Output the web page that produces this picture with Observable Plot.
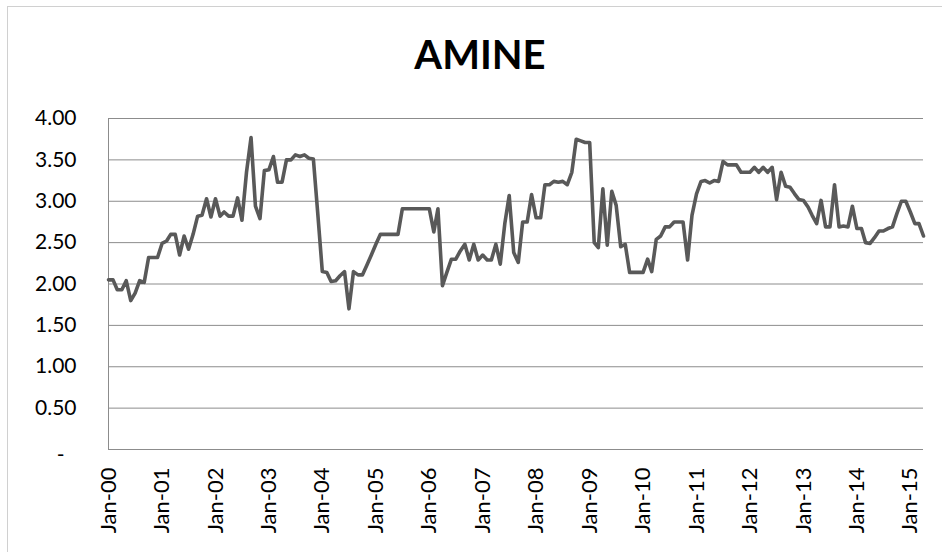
<!DOCTYPE html>
<html><head><meta charset="utf-8">
<script src="https://cdn.jsdelivr.net/npm/d3@7"></script>
<script src="https://cdn.jsdelivr.net/npm/@observablehq/plot@0.6"></script>
<style>
body{margin:0;background:#fff;}
#wrap{position:relative;width:942px;height:552px;overflow:hidden;font-family:Lato,"Open Sans",sans-serif;}
#frame{position:absolute;left:7px;top:6px;width:1000px;height:700px;border-left:1px solid #d0d0d0;border-top:1px solid #d0d0d0;}
#title{position:absolute;left:9px;width:942px;top:33.8px;line-height:40px;text-align:center;font-weight:700;font-size:40px;color:#000;}
#chart{position:absolute;left:0;top:0;}
</style></head>
<body>
<div id="wrap"><div id="frame"></div><div id="title">AMINE</div><div id="chart"></div></div>
<script>
const title = "AMINE";
const v2000 = [2.05,2.05,1.93,1.93,2.04,1.80,1.89,2.04,2.02,2.32,2.32,2.32];
const v2001 = [2.49,2.52,2.60,2.60,2.35,2.58,2.42,2.60,2.82,2.83,3.03,2.81];
const v2002 = [3.03,2.82,2.87,2.82,2.82,3.04,2.77,3.35,3.77,2.94,2.79,3.37];
const v2003 = [3.38,3.54,3.23,3.23,3.50,3.50,3.56,3.54,3.56,3.52,3.51,2.85];
const v2004 = [2.15,2.14,2.03,2.04,2.10,2.15,1.70,2.15,2.11,2.11,2.23,2.35];
const v2005 = [2.48,2.60,2.60,2.60,2.60,2.60,2.91,2.91,2.91,2.91,2.91,2.91];
const v2006 = [2.91,2.63,2.91,1.98,2.14,2.30,2.30,2.40,2.48,2.29,2.48,2.29];
const v2007 = [2.35,2.29,2.29,2.48,2.24,2.73,3.07,2.38,2.26,2.75,2.75,3.08];
const v2008 = [2.80,2.80,3.20,3.20,3.24,3.23,3.24,3.20,3.35,3.75,3.73,3.71];
const v2009 = [3.71,2.50,2.44,3.15,2.47,3.12,2.95,2.45,2.48,2.14,2.14,2.14];
const v2010 = [2.14,2.30,2.15,2.54,2.58,2.69,2.69,2.75,2.75,2.75,2.29,2.83];
const v2011 = [3.09,3.24,3.25,3.22,3.25,3.24,3.48,3.44,3.44,3.44,3.35,3.35];
const v2012 = [3.35,3.41,3.35,3.41,3.35,3.41,3.02,3.35,3.18,3.17,3.09,3.02];
const v2013 = [3.01,2.93,2.83,2.73,3.01,2.69,2.69,3.20,2.69,2.70,2.69,2.94];
const v2014 = [2.67,2.67,2.50,2.49,2.56,2.64,2.64,2.67,2.69,2.85,3.00,3.00];
const v2015 = [2.87,2.73,2.73,2.58];
const yTicks = [0,0.5,1,1.5,2,2.5,3,3.5,4];
const xTickYears = [2000,2001,2002,2003,2004,2005,2006,2007,2008,2009,2010,2011,2012,2013,2014,2015];

const values = [...v2000,...v2001,...v2002,...v2003,...v2004,...v2005,...v2006,...v2007,
  ...v2008,...v2009,...v2010,...v2011,...v2012,...v2013,...v2014,...v2015];
const months = values.map((v,i) => new Date(Date.UTC(2000, i, 1)));
const data = values.map((v,i) => ({date: months[i], value: v}));
const xTicks = xTickYears.map(y => new Date(Date.UTC(y,0,1)));
const fmtX = d3.utcFormat("%b-%y");

const chart = Plot.plot({
  width: 942, height: 552,
  marginTop: 118, marginBottom: 103, marginLeft: 108, marginRight: 19,
  x: {type: "utc", domain: [months[0], months[months.length-1]], label: null},
  y: {domain: [0, 4], label: null},
  style: {fontFamily: "Lato, 'Open Sans', sans-serif", color: "#000", background: "transparent"},
  marks: [
    Plot.gridY(yTicks, {stroke: "#8c8c8c", strokeOpacity: 1, strokeWidth: 1}),
    Plot.ruleX([months[0]], {stroke: "#8c8c8c", strokeWidth: 1}),
    Plot.lineY(data, {x: "date", y: "value", stroke: "#595959", strokeWidth: 3.6, strokeLinejoin: "round"}),
    Plot.axisY(yTicks.slice(1), {tickSize: 0, tickPadding: 32, tickFormat: d3.format(".2f"), fontSize: 21, label: null}),
    Plot.axisY([0], {tickSize: 0, tickPadding: 44, tickFormat: () => "-", fontSize: 21, dy: 6, label: null}),
    Plot.axisX(xTicks, {tickSize: 0, tickRotate: -90, tickPadding: 18, tickFormat: fmtX, fontSize: 22, label: null})
  ]
});
document.getElementById("chart").appendChild(chart);
</script>
</body></html>
